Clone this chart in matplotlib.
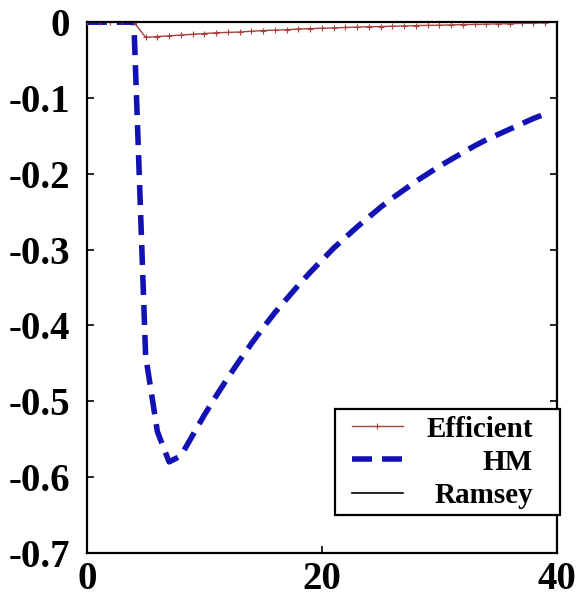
import matplotlib
matplotlib.use('Agg')
import matplotlib.pyplot as plt

# Horizon (periods)
periods = list(range(40))

# Impulse responses
efficient = [0, 0, 0, 0, 0, -0.020, -0.019, -0.018, -0.017, -0.016,
             -0.015, -0.014, -0.0135, -0.013, -0.012, -0.011, -0.0105, -0.010,
             -0.009, -0.0085, -0.008, -0.0075, -0.007, -0.0065, -0.006,
             -0.0058, -0.0053, -0.005, -0.0045, -0.0042, -0.004, -0.0036,
             -0.0032, -0.003, -0.0026, -0.0022, -0.002, -0.0016, -0.0013,
             -0.001]
hm = [0, 0, 0, 0, 0, -0.44, -0.54, -0.58, -0.572, -0.545,
      -0.518, -0.493, -0.469, -0.446, -0.424, -0.403, -0.383, -0.365,
      -0.347, -0.330, -0.314, -0.298, -0.284, -0.270, -0.257, -0.244,
      -0.232, -0.221, -0.210, -0.200, -0.190, -0.181, -0.172, -0.163,
      -0.155, -0.148, -0.141, -0.134, -0.127, -0.121]
ramsey = [0] * 40

x_ticks = [0, 20, 40]
y_ticks = [0, -0.1, -0.2, -0.3, -0.4, -0.5, -0.6, -0.7]
y_tick_labels = ['0', '-0.1', '-0.2', '-0.3', '-0.4', '-0.5', '-0.6', '-0.7']

SERIF = ['Liberation Serif', 'DejaVu Serif']

fig = plt.figure(figsize=(5.79, 5.99), dpi=100)
ax = fig.add_axes([0.150, 0.077, 0.812, 0.886])

ax.plot(periods, efficient, color='#a8403c', linewidth=1.0, marker='+',
        markersize=5, markeredgewidth=0.8, label='Efficient', zorder=3)
ax.plot(periods, hm, color='#1212b4', linewidth=4.0,
        linestyle=(0, (3.6, 1.8)), label='HM', zorder=2)
ax.plot(periods, ramsey, color='black', linewidth=1.2, label='Ramsey',
        zorder=4)

ax.set_xlim(0, 40)
ax.set_ylim(-0.7, 0)
ax.set_xticks(x_ticks)
ax.set_xticklabels([str(t) for t in x_ticks])
ax.set_yticks(y_ticks)
ax.set_yticklabels(y_tick_labels)

for lab in ax.get_xticklabels() + ax.get_yticklabels():
    lab.set_family(SERIF)
    lab.set_fontweight('bold')
    lab.set_fontsize(28)

ax.tick_params(direction='in', length=5, width=1.2, right=True, top=False)
ax.tick_params(axis='y', pad=12)
ax.tick_params(axis='x', pad=6)
for sp in ax.spines.values():
    sp.set_linewidth(1.6)

leg = ax.legend(loc='lower right', bbox_to_anchor=(1.006, 0.0716),
                borderaxespad=0, fancybox=False, framealpha=1,
                edgecolor='black', handlelength=1.75, handletextpad=0.8,
                labelspacing=0.21, borderpad=0.21,
                prop={'family': SERIF, 'weight': 'bold', 'size': 21})
leg.get_frame().set_linewidth(1.6)

# right-align the labels, leave some room right of them, and push the
# handles a bit in from the left edge of the frame
columns = leg.get_children()[0].get_children()[1]
columns.mode = 'expand'
columns.width = 213
rows = columns.get_children()[0].get_children()
for row in rows:
    row.mode = 'expand'
    row.width = 192
    row.get_children()[0].xdescent = 7.9

fig.savefig('out.png', dpi=100)
